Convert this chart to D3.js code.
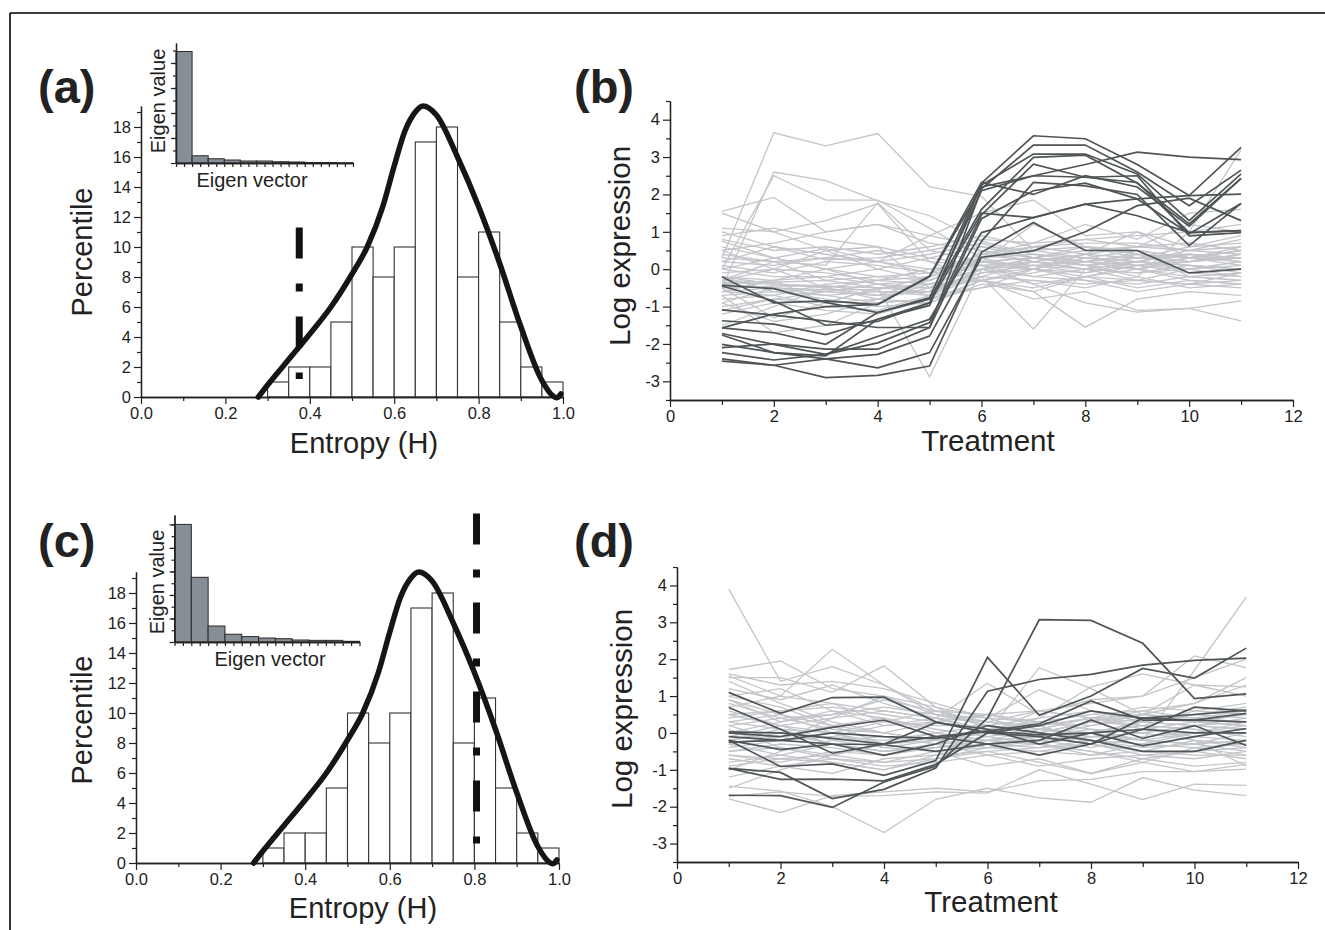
<!DOCTYPE html>
<html>
<head>
<meta charset="utf-8">
<script src="https://cdn.jsdelivr.net/npm/d3@7"></script>
<style>
  body { margin: 0; background: #fff; }
  svg { display: block; }
  text { font-family: Arial, "Liberation Sans", sans-serif; fill: #222; }
</style>
</head>
<body>
<svg id="fig" width="1325" height="930"></svg>
<script>
// ---- data ----
const binStarts = [0.30, 0.35, 0.40, 0.45, 0.50, 0.55, 0.60, 0.65, 0.70, 0.75, 0.80, 0.85, 0.90, 0.95];
const binWidth = 0.05;
const percentile = [1, 2, 2, 5, 10, 8, 10, 17, 18, 8, 11, 5, 2, 1];

const fitH = [0.278, 0.30, 0.35, 0.40, 0.45, 0.50, 0.536, 0.573, 0.60, 0.625, 0.65, 0.668, 0.70, 0.75, 0.80, 0.85, 0.90, 0.95, 0.975, 0.985, 0.995];
const fitP = [0, 0.8, 2.5, 4.2, 6.0, 8.2, 10.0, 12.7, 15.4, 17.7, 19.0, 19.4, 18.8, 16.0, 12.7, 8.9, 4.7, 1.1, 0.1, -0.05, 0.2];

const cutoffA = { h: 0.375, top: 11.3, bottom: 1.2 };
const cutoffC = { h: 0.805, top: 23.3, bottom: 1.3 };

const eigenA = [4.46, 0.29, 0.17, 0.12, 0.08, 0.08, 0.05, 0.04, 0.02, 0.02, 0.01];
const eigenC = [5.0, 2.75, 0.68, 0.33, 0.23, 0.17, 0.14, 0.085, 0.07, 0.07, 0.03];

const treatments = [1, 2, 3, 4, 5, 6, 7, 8, 9, 10, 11];

const bDark = [
  [-0.2, -0.9, -0.85, -0.95, -0.2, 2.2, 2.5, 2.8, 3.13, 3.0, 2.93],
  [-0.43, -0.52, -0.89, -1.16, -0.76, 2.3, 3.57, 3.49, 2.8, 1.97, 3.26],
  [-1.09, -1.23, -1.39, -1.56, -1.56, 2.15, 3.32, 3.32, 2.6, 1.7, 2.65],
  [-1.38, -1.47, -1.75, -1.34, -0.97, 2.25, 3.08, 3.08, 2.55, 1.3, 2.55],
  [-1.57, -1.7, -2.01, -1.16, -0.8, 1.6, 2.99, 3.05, 2.3, 1.21, 2.43],
  [-1.72, -2.01, -2.28, -1.97, -1.43, 1.45, 2.81, 2.46, 2.32, 0.98, 1.03],
  [-1.76, -2.23, -2.32, -1.34, -0.9, 2.1, 2.5, 2.46, 2.5, 0.89, 0.98],
  [-2.01, -2.23, -2.4, -2.28, -1.79, 0.75, 2.32, 2.23, 2.0, 0.63, 1.76],
  [-2.1, -2.0, -2.14, -2.14, -1.56, 1.35, 2.1, 2.3, 1.88, 1.97, 2.01],
  [-2.23, -2.43, -2.28, -1.8, -1.34, 0.98, 1.38, 1.74, 1.43, 0.98, 1.03],
  [-2.4, -2.57, -2.9, -2.84, -2.59, 0.45, 1.25, 0.5, 0.5, -0.1, 0.0],
  [-2.46, -2.57, -2.4, -2.64, -2.23, 0.32, 0.49, 1.0, 1.7, 1.9, 1.3],
  [-1.57, -1.2, -1.0, -0.94, -0.18, 2.32, 2.0, 2.5, 2.2, 1.15, 2.43],
  [-0.45, -0.85, -1.5, -1.4, -0.9, 1.5, 1.38, 1.74, 1.88, 0.95, 1.76]
];

const bGrey = [
  [0.3, 3.65, 3.3, 3.63, 2.2, 1.95, 0.5, 0.3, 0.2, 0.4, 0.3],
  [1.55, 1.92, 1.0, 1.2, 0.7, 0.5, 0.3, 0.5, 0.6, 0.5, 0.8],
  [-0.5, 2.6, 2.37, 1.83, 1.43, 0.75, 0.4, 0.2, 0.1, 0.3, 0.5],
  [0.0, 2.5, 1.85, 1.85, 1.1, 0.3, 0.0, -0.1, 0.2, 0.0, -0.2],
  [1.1, 1.0, 1.3, 1.75, 0.2, -0.3, -0.5, -0.2, 0.0, -0.3, -0.4],
  [0.75, 0.3, 0.55, 0.2, 0.9, 1.5, 1.85, 0.9, 1.0, 0.3, 0.5],
  [0.3, 0.2, 0.1, 1.78, 0.5, 0.2, 0.3, 0.1, 0.2, 0.5, 0.6],
  [-0.3, 0.0, 0.5, 0.6, -0.5, -0.2, -1.6, 0.0, 0.5, -0.2, -0.3],
  [-0.6, -0.3, -0.9, -0.5, -2.88, 0.0, 0.3, 0.1, 0.0, 0.2, 0.4],
  [-0.9, -1.4, -1.2, -0.8, -0.4, -0.3, -0.6, -1.55, -0.8, -0.6, -0.7],
  [0.5, 0.7, 1.0, 1.2, 0.9, 0.6, 0.3, 0.2, 0.4, 0.2, 0.3],
  [-1.5, -1.0, -0.5, -0.3, 0.0, 0.1, -0.4, -0.9, -1.15, -1.05, -1.38],
  [-0.4, -0.5, -0.6, -0.4, -0.5, -0.3, -0.8, -0.6, -1.1, -1.05, -0.85],
  [0.2, 0.6, 0.25, 0.3, 0.5, 0.8, 0.7, 1.2, 0.8, 1.5, 1.6],
  [-0.2, -0.4, -0.5, -0.7, -0.3, 0.2, 0.0, 0.3, 0.1, 0.0, 0.1],
  [-0.7, -0.6, -0.7, -0.9, -0.8, 0.4, 0.2, 0.0, -0.3, -0.4, -0.3],
  [-0.5, -0.45, -0.45, -0.6, -0.6, -0.1, 0.1, 0.2, 0.3, 0.4, 0.3],
  [-0.3, -0.35, -0.3, -0.5, -0.5, 0.3, 0.4, 0.3, 0.2, 0.1, 0.0],
  [-0.45, -0.5, -0.55, -0.55, -0.2, 0.1, 0.2, 0.0, -0.1, 0.0, 0.2],
  [-0.8, -0.7, -1.0, -1.1, -0.7, 0.0, -0.2, -0.3, -0.4, -0.2, -0.1],
  [0.0, -0.2, -0.2, 0.0, 0.3, 0.6, 0.5, 0.6, 0.5, 0.3, 0.5],
  [0.4, 0.2, 0.3, 0.5, 0.2, 0.1, 0.0, -0.2, -0.3, 0.0, 0.2],
  [-1.0, -0.8, -0.6, -0.7, -0.6, 0.5, 0.2, 0.4, 0.6, 0.7, 0.5],
  [-0.2, -0.6, -0.8, -1.0, -0.9, -0.3, -0.1, 0.2, 0.4, 0.3, 0.6],
  [-1.2, -0.9, -1.1, -1.2, -0.8, -0.5, -0.3, -0.5, -0.2, -0.5, -0.4],
  [0.1, -0.1, 0.2, 0.1, -0.1, 0.3, 0.6, 0.7, 0.7, 0.5, 0.4],
  [-0.6, -0.7, -0.4, -0.3, -0.4, 0.0, 0.1, -0.1, 0.1, -0.1, -0.2],
  [0.9, 1.1, 0.8, 0.6, 0.3, 0.1, -0.2, 0.0, 0.2, 0.1, 0.0],
  [1.0, 0.6, 0.4, 0.2, -0.1, 0.0, 0.3, 0.2, 0.0, -0.2, -0.3],
  [-0.3, 0.2, -0.3, -0.2, -0.3, 0.2, 1.2, 0.6, 0.3, 0.4, 0.2],
  [-0.5, -1.3, -0.9, -0.5, -0.6, 0.0, -0.4, -0.2, -0.5, -0.3, -0.4],
  [0.0, 0.3, 0.0, -0.2, -0.1, 0.4, 0.6, 0.8, 0.9, 1.0, 1.2],
  [-0.4, -0.3, -0.2, -0.4, -0.3, 0.2, 0.0, 0.4, 0.0, 0.3, 0.1],
  [-0.9, -0.5, -0.7, -0.6, -0.7, -0.2, 0.2, 0.0, 0.2, 0.1, -0.1],
  [0.5, 0.0, -0.5, -0.8, -0.9, -0.4, -0.6, -0.2, 0.1, 0.2, 0.3],
  [-0.7, -1.7, -1.5, -0.9, -0.8, -0.3, 0.0, 0.4, 1.0, 0.6, 0.7],
  [-0.1, 0.0, -0.1, -0.3, -0.2, 0.4, 0.7, 0.8, 0.6, 1.2, 1.0],
  [-0.6, -0.5, -0.6, -0.7, -0.6, -0.2, -0.3, -0.4, -0.3, -0.4, -0.5],
  [0.2, 0.1, 0.3, 0.2, 0.0, 0.2, 0.1, 0.0, -0.1, 0.1, 0.0],
  [-0.35, -0.4, -0.45, -0.5, -0.4, 0.0, 0.2, 0.1, 0.3, 0.2, 0.4],
  [1.5, 1.0, 0.5, 0.0, -0.3, 0.2, 0.3, 0.6, 0.4, 0.3, 0.3],
  [0.8, 0.5, 0.6, 0.4, 0.6, 0.9, 0.6, 0.4, 0.3, 0.6, 0.9],
  [-1.1, -0.8, -0.9, -0.8, -0.5, -0.1, 0.0, -0.3, -0.6, -0.4, -0.1],
  [-0.2, -0.3, 0.0, 0.2, 0.4, 0.7, 0.3, 0.1, -0.2, 1.0, 3.2],
  [0.6, 0.3, 0.0, -0.4, -0.7, -0.5, 0.0, 0.3, 0.5, 0.3, 0.2]
];

const dDark = [
  [1.1, 0.53, 0.96, 0.97, 0.3, 0.0, 0.2, 0.6, 0.4, 0.5, 0.62],
  [0.69, 0.1, -0.55, -0.3, -0.1, 0.05, 0.25, 0.87, 0.35, 0.35, 0.53],
  [-0.2, -0.91, -0.84, -1.15, -0.75, 2.05, 0.48, 1.0, 1.75, 1.49, 2.3],
  [-0.96, -1.07, -1.78, -1.53, -0.95, 1.13, 1.45, 1.59, 1.84, 1.97, 2.03],
  [-1.69, -1.7, -2.02, -1.33, -0.9, 0.4, 3.07, 3.05, 2.43, 0.93, 1.06],
  [-0.96, -1.26, -1.25, -1.3, -0.85, 0.0, -0.1, -0.3, 0.4, 0.35, 0.3],
  [0.03, 0.0, -0.15, -0.3, 0.28, 0.1, -0.3, 0.0, -0.35, -0.1, 0.12],
  [-0.1, -0.2, -0.3, -0.32, -0.5, -0.3, -0.6, -0.3, 0.1, 0.7, 0.6],
  [-0.2, -0.45, -0.3, -0.61, -0.3, 0.2, 0.0, -0.2, -0.5, -0.5, -0.2],
  [0.0, -0.1, 0.15, 0.35, -0.1, -0.3, -0.2, 0.35, -0.15, 0.2, -0.34],
  [-0.25, -0.2, 0.0, -0.1, -0.15, 0.05, -0.05, 0.0, 0.1, 0.0, 0.0]
];

const dGrey = [
  [3.9, 1.4, 1.8, 1.3, 0.6, 0.3, 0.2, 0.4, 0.3, 0.5, 0.6],
  [1.72, 1.95, 1.2, 1.0, 0.5, 0.2, 0.0, 0.3, 0.5, 1.3, 1.25],
  [1.55, 1.0, 2.27, 1.3, 0.5, 0.3, 0.6, 0.4, 0.7, 0.6, 0.8],
  [1.5, 1.5, 1.1, 1.82, 0.7, 0.1, -0.2, 0.0, 0.3, 0.2, 0.4],
  [1.2, 0.9, 1.3, 0.8, 0.4, 1.35, 0.5, 0.9, 1.0, 2.09, 1.77],
  [1.0, 1.2, 0.6, 0.2, 0.3, 0.0, 1.77, 1.2, 0.5, 0.3, 0.5],
  [0.8, 0.4, 0.5, 0.7, 0.5, 0.4, 1.17, 0.6, 0.3, 0.2, 0.3],
  [0.5, 0.6, 0.8, 0.3, 0.2, 0.2, 0.4, 1.25, 1.6, 1.3, 1.0],
  [-1.79, -2.16, -1.7, -1.6, -1.5, -1.6, -1.3, -1.26, -1.05, -1.05, -0.98],
  [-1.44, -1.58, -2.0, -2.7, -1.8, -1.5, -1.76, -1.88, -1.21, -1.55, -1.7],
  [-1.72, -1.6, -1.72, -1.7, -1.6, -1.63, -1.0, -1.39, -1.81, -1.39, -1.42],
  [0.3, 0.1, 0.0, -0.3, -0.1, 0.0, -0.2, -0.1, -0.2, -0.3, -0.2],
  [-0.5, -0.3, -0.4, -0.6, -0.3, -0.1, 0.1, 0.0, -0.2, 0.0, 0.1],
  [0.2, 0.4, 0.1, 0.0, 0.3, 0.5, 0.3, 0.2, 0.5, 0.4, 0.3],
  [-0.8, -0.6, -0.3, -0.5, -0.4, -0.2, -0.3, -0.5, -0.7, -0.5, -0.4],
  [0.0, -0.2, -0.1, 0.2, 0.4, 0.3, 0.1, -0.1, 0.0, 0.2, 0.1],
  [-0.3, -0.6, -0.8, -1.0, -0.6, -0.3, -0.4, -0.2, -0.4, -0.3, -0.5],
  [0.6, 0.2, -0.2, -0.4, -0.2, 0.0, 0.4, 0.6, 0.3, 0.5, 0.7],
  [-1.2, -0.9, -0.7, -0.8, -0.5, -0.9, -0.7, -1.1, -0.8, -1.05, -0.85],
  [1.4, 0.8, 0.3, 0.0, -0.2, -0.4, -0.3, -0.6, -0.5, -0.6, -0.6],
  [-0.6, -0.7, -0.6, -0.8, -0.7, -0.4, -0.5, -0.6, -0.3, -0.4, -0.3],
  [0.4, 0.6, 0.7, 0.5, 0.3, 0.5, 0.6, 0.4, 0.2, 0.6, 0.5],
  [-0.1, 0.2, 0.4, 0.6, 0.4, 0.1, 0.2, -0.3, 0.1, -0.1, -0.2],
  [-0.4, -0.2, -0.1, -0.2, 0.0, -0.3, -0.1, 0.1, -0.2, -0.3, 0.0],
  [0.9, 0.3, 0.5, 0.9, 0.6, 0.2, -0.1, 0.2, 0.4, 0.3, 0.2],
  [-1.0, -0.5, -0.2, -0.1, -0.3, -0.6, -0.9, -0.7, -0.6, -0.7, -0.5],
  [0.1, -0.4, -0.6, -0.3, 0.0, 0.2, 0.0, 0.3, 0.6, 0.8, 1.3],
  [1.6, 1.3, 1.4, 1.2, 0.8, 0.4, 0.3, 0.1, 0.0, 0.2, 0.1],
  [-0.2, 0.0, -0.3, -0.5, -0.4, -0.3, -0.2, -0.4, -0.1, 0.0, 0.3],
  [0.7, 1.0, 0.8, 0.6, 0.4, 0.0, -0.2, 0.0, 0.2, 0.1, -0.1],
  [-0.7, -0.9, -1.1, -0.7, -0.6, -0.5, -0.4, -0.3, -0.5, -0.2, -0.4],
  [0.3, 0.5, 0.2, 0.4, 0.1, -0.1, -0.3, -0.5, -0.8, -0.4, -0.6],
  [-1.5, -1.0, -0.6, -0.3, -0.1, 0.0, 0.2, 0.4, 0.5, 0.8, 1.5],
  [0.0, 0.3, 0.6, 0.4, 0.0, -0.2, 0.1, 0.4, 0.1, 0.3, 0.2],
  [-0.5, -0.4, -0.7, -0.9, -0.8, -0.6, -0.5, -0.3, -0.6, -0.5, -0.7],
  [0.9, 0.5, 0.0, -0.4, -0.5, -0.4, -0.2, 0.0, 0.3, 0.5, 0.4],
  [-0.3, -0.1, 0.2, 0.0, -0.2, 0.1, 0.3, 0.5, 0.6, 0.4, 0.6],
  [0.5, 0.2, 0.0, 0.3, 0.6, 0.5, 0.2, -0.2, -0.3, 0.0, 0.2],
  [-0.9, -0.7, -0.8, -1.0, -0.7, -0.5, -0.8, -1.1, -0.7, -0.9, -0.8],
  [0.2, -0.2, 0.4, 1.0, 0.7, 0.4, 0.0, 0.3, 0.2, -0.2, -0.9],
  [-0.2, 0.1, -0.3, -0.5, -0.3, -0.2, -0.1, 0.0, -0.2, 1.7, 3.68],
  [1.0, 0.7, 0.2, -0.3, -0.2, 0.0, 0.6, 0.8, 1.0, 1.5, 2.0],
  [-0.6, -0.8, -0.5, -0.6, -0.4, -0.2, -0.3, -0.1, 0.0, -0.2, -0.3]
];

// ---- drawing ----
const svg = d3.select("#fig");
const ink = "#222";
const plain = d => String(d);

// frame lines along top and left
svg.append("line").attr("x1", 10).attr("x2", 1325).attr("y1", 13).attr("y2", 13)
  .attr("stroke", "#000").attr("stroke-width", 1.6);
svg.append("line").attr("x1", 10).attr("x2", 10).attr("y1", 13).attr("y2", 930)
  .attr("stroke", "#000").attr("stroke-width", 1.6);

function styleAxis(g, size) {
  g.selectAll("path.domain").attr("stroke", ink).attr("stroke-width", 1.3);
  g.selectAll(".tick line").attr("stroke", ink).attr("stroke-width", 1.2);
  g.selectAll(".tick text").style("font-size", size + "px").attr("fill", ink);
}

// axis with labelled major ticks and unlabelled minor ticks
function drawAxis(g, scale, orient, major, minor, fmt, bigTick, smallTick, fs, pos) {
  const mk = orient === "left" ? d3.axisLeft : d3.axisBottom;
  const t = orient === "left" ? `translate(${pos},0)` : `translate(0,${pos})`;
  g.append("g").attr("transform", t)
    .call(mk(scale).tickValues(minor).tickSize(smallTick).tickFormat("").tickSizeOuter(0))
    .call(s => styleAxis(s, fs));
  g.append("g").attr("transform", t)
    .call(mk(scale).tickValues(major).tickSize(bigTick).tickPadding(3).tickFormat(fmt).tickSizeOuter(0))
    .call(s => styleAxis(s, fs));
}

function entropyPanel(box, inset, cutoff, eigen, labels) {
  const g = svg.append("g");
  const x = d3.scaleLinear().domain([0, 1]).range([box.x0, box.x1]);
  const y = d3.scaleLinear().domain([0, 19.4]).range([box.y0, box.y1]);

  g.selectAll("rect.bin")
    .data(percentile)
    .join("rect")
    .attr("class", "bin")
    .attr("x", (d, i) => x(binStarts[i]))
    .attr("width", (d, i) => x(binStarts[i] + binWidth) - x(binStarts[i]))
    .attr("y", d => y(d))
    .attr("height", d => y(0) - y(d))
    .attr("fill", "#fff")
    .attr("stroke", "#333")
    .attr("stroke-width", 1.1);

  drawAxis(g, y, "left", d3.range(0, 19, 2), d3.range(1, 20, 2), plain, 7, 4, 16.5, box.x0);
  drawAxis(g, x, "bottom", [0, 0.2, 0.4, 0.6, 0.8, 1.0], [0.1, 0.3, 0.5, 0.7, 0.9],
    d3.format(".1f"), 7, 4, 16.5, box.y0);

  const fit = d3.line()
    .x((d, i) => x(fitH[i]))
    .y(d => y(d))
    .curve(d3.curveMonotoneX);
  g.append("path").datum(fitP)
    .attr("d", fit)
    .attr("fill", "none")
    .attr("stroke", "#151515")
    .attr("stroke-width", 5.5)
    .attr("stroke-linecap", "round");

  g.append("line")
    .attr("x1", x(cutoff.h)).attr("x2", x(cutoff.h))
    .attr("y1", y(cutoff.top)).attr("y2", y(cutoff.bottom))
    .attr("stroke", "#111")
    .attr("stroke-width", 7)
    .attr("stroke-dasharray", "31,25,8,25");

  // inset: eigen value spectrum
  const ix = d3.scaleLinear().domain([0, 11]).range([inset.x0, inset.x1]);
  const iy = d3.scaleLinear().domain([0, inset.top]).range([inset.y0, inset.y1]);
  g.selectAll("rect.eig")
    .data(eigen)
    .join("rect")
    .attr("class", "eig")
    .attr("x", (d, i) => ix(i))
    .attr("width", (d, i) => ix(i + 1) - ix(i))
    .attr("y", d => iy(d))
    .attr("height", d => iy(0) - iy(d))
    .attr("fill", "#878e95")
    .attr("stroke", "#2b2b2b")
    .attr("stroke-width", 1);
  drawAxis(g, iy, "left", d3.range(0, inset.top, 1), d3.range(0.5, inset.top, 0.5), "", 5, 3, 12, inset.x0);
  drawAxis(g, ix, "bottom", [], d3.range(0, 11.01, 0.5), "", 4, 4, 12, inset.y0);

  g.append("text")
    .attr("transform", `translate(${labels.evX},${labels.evY}) rotate(-90)`)
    .attr("text-anchor", "middle")
    .style("font-size", "20px")
    .text("Eigen value");
  g.append("text")
    .attr("x", labels.vecX).attr("y", labels.vecY)
    .attr("text-anchor", "middle")
    .style("font-size", "20px")
    .text("Eigen vector");

  g.append("text")
    .attr("transform", `translate(${labels.pX},${labels.pY}) rotate(-90)`)
    .attr("text-anchor", "middle")
    .style("font-size", "29px")
    .text("Percentile");
  g.append("text")
    .attr("x", labels.hX).attr("y", labels.hY)
    .attr("text-anchor", "middle")
    .style("font-size", "29px")
    .text("Entropy (H)");
  g.append("text")
    .attr("x", 38).attr("y", labels.tagY)
    .style("font-size", "47px").style("font-weight", "bold")
    .text(labels.tag);
}

function expressionPanel(box, dark, grey, labels) {
  const g = svg.append("g");
  const x = d3.scaleLinear().domain([0, 12]).range([box.x0, box.x1]);
  const y = d3.scaleLinear().domain([-3.5, 4.5]).range([box.y0, box.y1]);
  const line = d3.line().x((d, i) => x(treatments[i])).y(d => y(d));

  g.append("g").selectAll("path")
    .data(grey)
    .join("path")
    .attr("d", line)
    .attr("fill", "none")
    .attr("stroke", "#c3c5c9")
    .attr("stroke-width", 1.3);
  g.append("g").selectAll("path")
    .data(dark)
    .join("path")
    .attr("d", line)
    .attr("fill", "none")
    .attr("stroke", "#4f5456")
    .attr("stroke-width", 1.7);

  drawAxis(g, y, "left", d3.range(-3, 5, 1), d3.range(-3.5, 4.6, 1), plain, 7, 4, 16.5, box.x0);
  drawAxis(g, x, "bottom", d3.range(0, 13, 2), d3.range(1, 12, 2), plain, 7, 5, 16.5, box.y0);

  g.append("text")
    .attr("transform", `translate(${labels.lX},${labels.lY}) rotate(-90)`)
    .attr("text-anchor", "middle")
    .style("font-size", "29.5px")
    .text("Log expression");
  g.append("text")
    .attr("x", labels.tX).attr("y", labels.tY)
    .attr("text-anchor", "middle")
    .style("font-size", "29.5px")
    .text("Treatment");
  g.append("text")
    .attr("x", 574).attr("y", labels.tagY)
    .style("font-size", "47px").style("font-weight", "bold")
    .text(labels.tag);
}

entropyPanel(
  { x0: 141, x1: 563, y0: 397, y1: 106 },
  { x0: 176, x1: 353, y0: 163, y1: 43, top: 4.8 },
  cutoffA, eigenA,
  { tag: "(a)", tagY: 103, pX: 92, pY: 252, hX: 364, hY: 453, evX: 165, evY: 101, vecX: 252, vecY: 187 }
);
entropyPanel(
  { x0: 136, x1: 559, y0: 863, y1: 572 },
  { x0: 174.5, x1: 359.5, y0: 642, y1: 515, top: 5.4 },
  cutoffC, eigenC,
  { tag: "(c)", tagY: 557, pX: 92, pY: 720, hX: 363, hY: 918, evX: 164, evY: 582, vecX: 270, vecY: 666 }
);
expressionPanel(
  { x0: 670, x1: 1293, y0: 400, y1: 101 },
  bDark, bGrey,
  { tag: "(b)", tagY: 103, lX: 630, lY: 246, tX: 988, tY: 451 }
);
expressionPanel(
  { x0: 677, x1: 1298, y0: 862, y1: 567 },
  dDark, dGrey,
  { tag: "(d)", tagY: 557, lX: 632, lY: 709, tX: 991, tY: 912 }
);
</script>
</body>
</html>
